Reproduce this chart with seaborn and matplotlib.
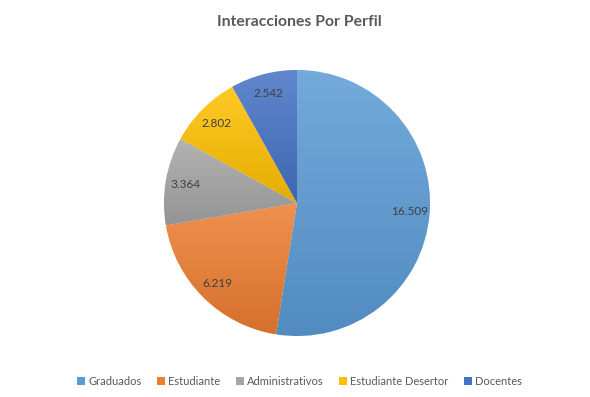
import matplotlib
matplotlib.use("Agg")
import matplotlib.pyplot as plt
import matplotlib.colors as mcolors
from matplotlib.patches import Patch
import numpy as np
import seaborn as sns

categories = ["Graduados", "Estudiante", "Administrativos", "Estudiante Desertor", "Docentes"]
values = [16509, 6219, 3364, 2802, 2542]
colors = ["#5B9BD5", "#ED7D31", "#A5A5A5", "#FFC000", "#4472C4"]

sns.set_theme(style="white")
plt.rcParams["font.family"] = ["Lato", "DejaVu Sans"]


def fmt_value(v):
    return f"{v:,}".replace(",", ".")


def shade(color, amount):
    # amount > 0 lightens, amount < 0 darkens
    rgb = np.array(mcolors.to_rgb(color))
    if amount > 0:
        return tuple(rgb + (1 - rgb) * amount)
    return tuple(rgb * (1 + amount))


fig = plt.figure(figsize=(5.9, 3.97), dpi=100)
r_px = 133
cx, cy = 297, 397 - 203
ax = fig.add_axes([(cx - r_px) / 590, (cy - r_px) / 397, 2 * r_px / 590, 2 * r_px / 397])

wedges, _, autotexts = ax.pie(
    values,
    colors=colors,
    startangle=90,
    counterclock=False,
    autopct=lambda p: fmt_value(int(round(p * sum(values) / 100))),
    pctdistance=0.85,
    wedgeprops=dict(linewidth=0.6, edgecolor="white"),
    textprops=dict(color="#404040", fontsize=8.5),
)

# gradient fill per wedge, lighter at the top like the spreadsheet style
for w, c in zip(wedges, colors):
    bb = w.get_path().get_extents(w.get_patch_transform())
    grad = np.linspace(1, 0, 64).reshape(-1, 1)
    cmap = mcolors.LinearSegmentedColormap.from_list("g", [shade(c, -0.1), shade(c, 0.15)])
    im = ax.imshow(grad, cmap=cmap, extent=[bb.x0, bb.x1, bb.y0, bb.y1],
                   aspect="auto", zorder=w.get_zorder() + 0.1, origin="upper")
    im.set_clip_path(w)
for t in autotexts:
    t.set_zorder(5)
ax.set_xlim(-1.0, 1.0)
ax.set_ylim(-1.0, 1.0)
ax.set_aspect("equal")
ax.axis("off")

fig.text(0.508, 0.945, "Interacciones Por Perfil", ha="center", va="center",
         fontsize=11.3, fontweight="bold", color="#595959")

handles = [Patch(facecolor=c, edgecolor="none") for c in colors]
fig.legend(handles, categories, loc="center", bbox_to_anchor=(0.508, 0.04), ncol=5,
           frameon=False, fontsize=8, labelcolor="#595959",
           handlelength=0.7, handleheight=0.7, handletextpad=0.3, columnspacing=1.4)

fig.savefig("out.png", dpi=100, facecolor="white")
